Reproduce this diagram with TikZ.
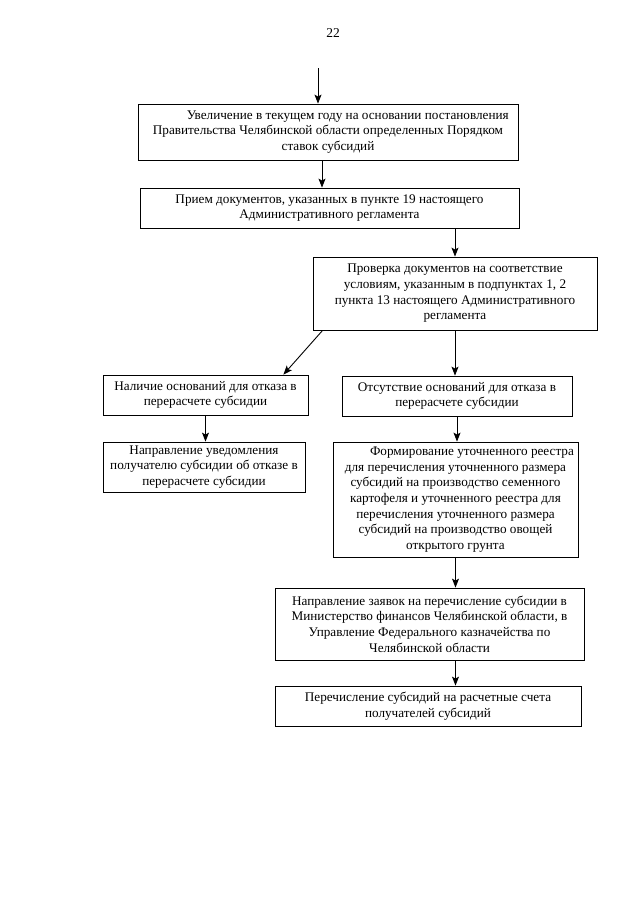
\documentclass[tikz,border=0pt]{standalone}
\usepackage{fontspec}
\setmainfont{Liberation Serif}
\usepackage{tikz}
\usetikzlibrary{calc}
\usetikzlibrary{arrows.meta}
\tikzset{
   box/.style={draw=black, line width=0.8pt, align=center,
      inner sep=1pt, font=\fontsize{13.2}{15.7}\selectfont},
   arr/.style={draw=black, line width=0.9pt, -{Stealth[length=9pt,width=7pt,inset=2pt]}},
   }

\begin{document}
\begin{tikzpicture}[x=1pt, y=-1pt]
            \useasboundingbox (0,0) rectangle (640,905);
            \node[font=\fontsize{13.5}{15}\selectfont] (pagenum) at (333,33) {22};
            \node[box, minimum width=380, minimum height=56] (increase) at (328,132)
               {\hspace*{3em}Увеличение в текущем году на основании постановления\\
                Правительства Челябинской области определенных Порядком\\
                ставок субсидий};
            \node[box, minimum width=379, minimum height=40] (intake) at (329.5,208)
               {Прием документов, указанных в пункте 19 настоящего\\
                Административного регламента};
            \node[box, minimum width=284, minimum height=73] (check) at (455,293.5)
               {Проверка документов на соответствие\\
                условиям, указанным в подпунктах 1, 2\\
                пункта 13 настоящего Административного\\
                регламента};
            \node[box, minimum width=205, minimum height=40] (refusal) at (205.5,395)
               {Наличие оснований для отказа в\\
                перерасчете субсидии};
            \node[box, minimum width=230, minimum height=40] (norefusal) at (457,396)
               {Отсутствие оснований для отказа в\\
                перерасчете субсидии};
            \node[box, minimum width=202, minimum height=50] (notice) at (204,467)
               {Направление уведомления\\
                получателю субсидии об отказе в\\
                перерасчете субсидии};
            \node[box, minimum width=245, minimum height=115] (register) at (455.5,499.5)
               {\hspace*{2.5em}Формирование уточненного реестра\\
                для перечисления уточненного размера\\
                субсидий на производство семенного\\
                картофеля и уточненного реестра для\\
                перечисления уточненного размера\\
                субсидий на производство овощей\\
                открытого грунта};
            \node[box, minimum width=309, minimum height=72] (request) at (429.5,624)
               {Направление заявок на перечисление субсидии в\\
                Министерство финансов Челябинской области, в\\
                Управление Федерального казначейства по\\
                Челябинской области};
            \node[box, minimum width=306, minimum height=40] (transfer) at (428,706)
               {Перечисление субсидий на расчетные счета\\
                получателей субсидий};
            \coordinate (start) at (318,68);
            \draw[arr](start)to(start |- increase.north);
            \draw[arr]([xshift=-6pt]increase.south)to([xshift=-6pt]increase.south |- intake.north);
            \draw[arr](check.north |- intake.south)to(check.north);
            \draw[arr]([xshift=10pt]check.south west)to([xshift=-25pt]refusal.north east);
            \draw[arr](check.south)to(check.south |- norefusal.north);
            \draw[arr](refusal.south)to(refusal.south |- notice.north);
            \draw[arr](norefusal.south)to(norefusal.south |- register.north);
            \draw[arr](register.south)to(register.south |- request.north);
            \draw[arr](register.south |- request.south)to(register.south |- transfer.north);
        \end{tikzpicture}
\end{document}
